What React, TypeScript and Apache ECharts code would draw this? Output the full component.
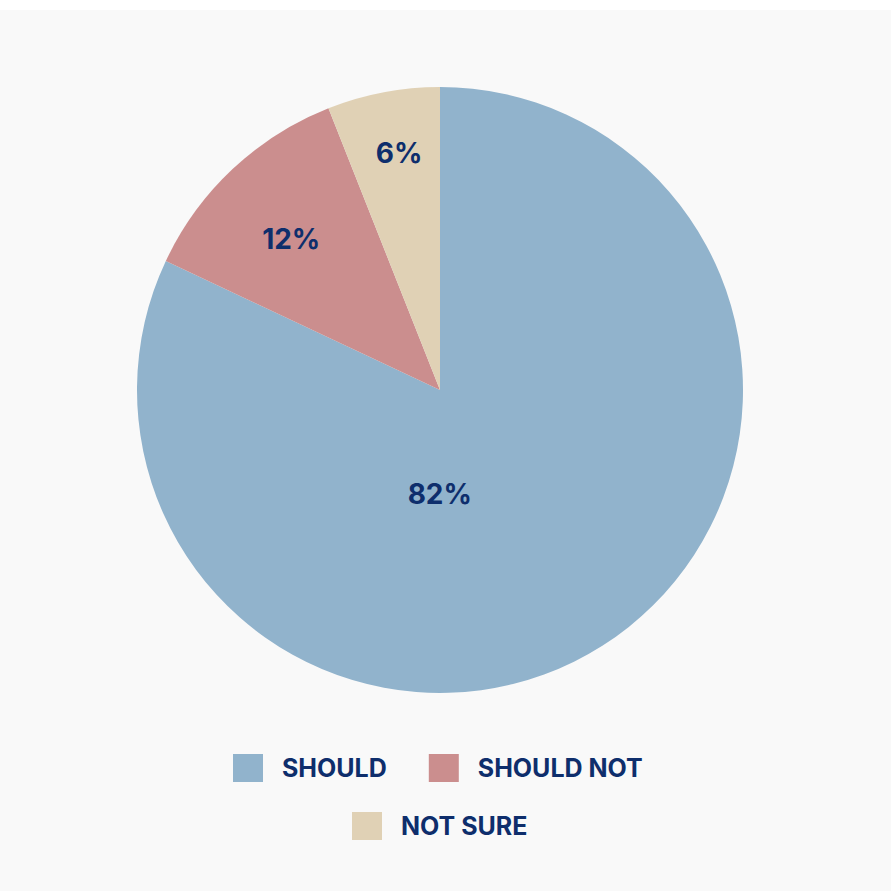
import React, { useRef, useEffect } from 'react'
import * as echarts from 'echarts'

const categories = ['SHOULD', 'SHOULD NOT', 'NOT SURE']
const values = [82, 12, 6]
const colors = ['#91b3cc', '#cb8e8e', '#e0d1b5']

// 标签偏移 - 相对扇区中点
const labelOffsets = [
  [-83, -26],
  [-43, -38],
  [-12, -85],
]

const TEXT_COLOR = '#0e2e6c'
const FONT = 'Inter, "Noto Sans", sans-serif'

const App: React.FC = () => {
  const chartRef = useRef<HTMLDivElement>(null)

  useEffect(() => {
    document.body.style.margin = '0'
    if (!chartRef.current) return

    const chart = echarts.init(chartRef.current, undefined, { renderer: 'svg' })

    const legendCommon = {
      orient: 'horizontal' as const,
      icon: 'rect',
      itemWidth: 30,
      itemHeight: 28,
      itemGap: 42,
      textStyle: {
        color: TEXT_COLOR,
        fontFamily: FONT,
        fontWeight: 'bold' as const,
        fontSize: 25,
        padding: [0, 0, 0, 14],
      },
    }

    const option = {
      animation: false,
      backgroundColor: '#f9f9f9',
      color: colors,
      legend: [
        { ...legendCommon, left: 228, top: 739, data: categories.slice(0, 2) },
        { ...legendCommon, left: 347, top: 797, data: categories.slice(2) },
      ],
      series: [
        {
          type: 'pie',
          center: [440, 380],
          radius: 303,
          startAngle: 90,
          clockwise: true,
          emphasis: { disabled: true },
          label: {
            show: true,
            position: 'inside',
            formatter: '{c}%',
            color: TEXT_COLOR,
            fontFamily: FONT,
            fontWeight: 'bold',
            fontSize: 28,
          },
          labelLine: { show: false },
          data: categories.map((name, i) => ({
            name,
            value: values[i],
            label: { offset: labelOffsets[i] },
          })),
        },
      ],
    }

    chart.setOption(option)

    return () => {
      chart.dispose()
    }
  }, [])

  return (
    <div style={{ paddingTop: 10, background: '#ffffff' }}>
      <div ref={chartRef} style={{ width: 891, height: 881 }} />
    </div>
  )
}

export default App
